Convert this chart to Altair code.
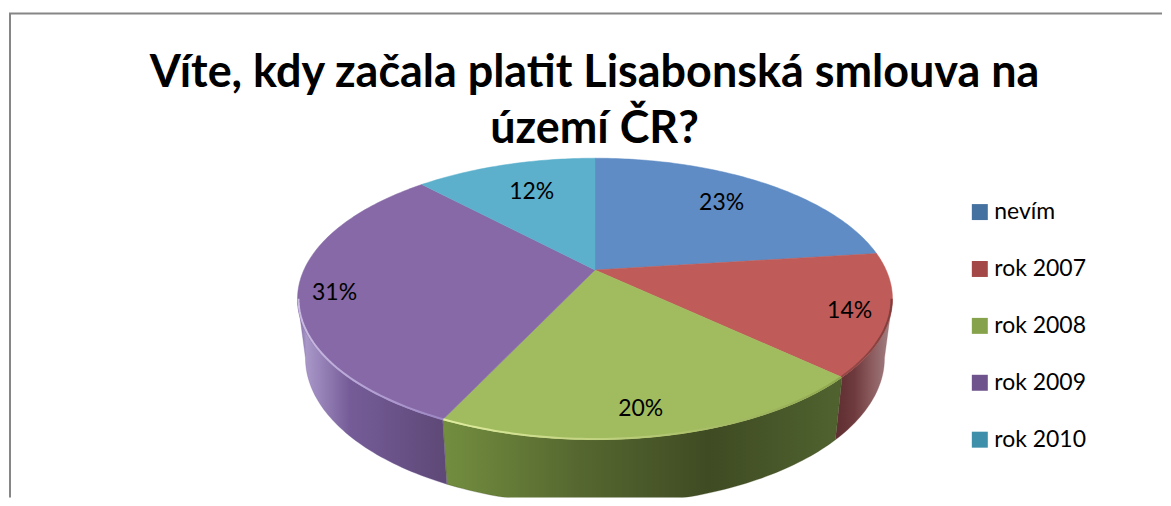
import math
import altair as alt
import pandas as pd

categories = ["nevím", "rok 2007", "rok 2008", "rok 2009", "rok 2010"]
shares = [23, 14, 20, 31, 12]
top_colors = ["#5F8CC5", "#BF5B58", "#A0BC5F", "#8669A6", "#5CB0CC"]
legend_colors = ["#44719F", "#A34846", "#86A34C", "#6E538C", "#3E8FAA"]
label_radius = [0.75, 0.87, 0.85, 0.88, 0.72]
label_nudge = [-1.0, 0.5, 2.0, -1.0, 1.5]
side_stops = {
    "rok 2007": ["#5E2E31", "#6E3A3D", "#8E5F62", "#A58689"],
    "rok 2008": ["#738E3F", "#566830", "#3F4B23", "#50632F"],
    "rok 2009": ["#7C68A0", "#A997C8", "#755C98", "#5D4876"],
}
rim_stops = {
    "rok 2007": ["#7E3E3D", "#9A4A48"],
    "rok 2008": ["#E0EDA0", "#8FA64E"],
    "rok 2009": ["#9D86C4", "#C9BBE2"],
}

W, H = 1155, 490
TOP = dict(cx=587.0, cy=262.0, a=291.6, b=135.0, p=0.2057)
BOTTOM = dict(cx=587.0, cy=320.0, a=283.8, b=140.8, p=0.2057)


def project(deg, r=1.0, g=TOP):
    t = math.radians(deg)
    X, Y = r * math.sin(t), -r * math.cos(t)
    d = 1 - g["p"] * Y
    return g["cx"] + g["a"] * X / d, g["cy"] + g["b"] * Y / d


edges = [0.0]
for s in shares:
    edges.append(edges[-1] + s * 3.6)

FRONT_A = math.degrees(math.acos(-TOP["p"]))
FRONT_B = 360 - FRONT_A


def arc(a, b):
    n = max(2, int(abs(b - a)) + 1)
    return [a + (b - a) * k / (n - 1) for k in range(n)]


def frame(pts):
    return pd.DataFrame({"x": [p[0] for p in pts], "y": [p[1] for p in pts], "i": range(len(pts))})


xs = alt.X("x:Q", axis=None, scale=alt.Scale(domain=[0, W], range=[0, W]))
ys = alt.Y("y:Q", axis=None, scale=alt.Scale(domain=[0, H], reverse=True))
order = alt.Order("i:Q")
layers = []

# walls
for k, cat in enumerate(categories):
    a, b = max(edges[k], FRONT_A), min(edges[k + 1], FRONT_B)
    if a >= b or cat not in side_stops:
        continue
    angles = arc(a, b)
    pts = [project(t) for t in angles] + [project(t, g=BOTTOM) for t in reversed(angles)]
    pts.append(pts[0])
    st = side_stops[cat]
    offsets = [0, 0.06, 0.35, 1] if cat == "rok 2009" else [j / (len(st) - 1) for j in range(len(st))]
    grad = alt.LinearGradient(
        gradient="linear", x1=0, y1=0, x2=1, y2=0,
        stops=[alt.GradientStop(color=c, offset=o) for c, o in zip(st, offsets)],
    )
    layers.append(alt.Chart(frame(pts)).mark_line(fill=grad, stroke=st[2], strokeWidth=0.3, clip=True)
                  .encode(x=xs, y=ys, order=order))

# top surface slices
for k, cat in enumerate(categories):
    pts = [project(0, 0)] + [project(t) for t in arc(edges[k], edges[k + 1])] + [project(0, 0)]
    layers.append(alt.Chart(frame(pts)).mark_line(fill=top_colors[k], stroke=top_colors[k], strokeWidth=0.5, clip=True)
                  .encode(x=xs, y=ys, order=order))

# rim highlight
for k, cat in enumerate(categories):
    if cat not in rim_stops:
        continue
    a, b = max(edges[k], FRONT_A), min(edges[k + 1], FRONT_B)
    pts = [project(t, 0.997) for t in arc(a, b)]
    st = rim_stops[cat]
    x1, x2 = (0, 1) if cat == "rok 2008" else (1, 0)
    grad = alt.LinearGradient(
        gradient="linear", x1=x1, y1=0, x2=x2, y2=0,
        stops=[alt.GradientStop(color=st[0], offset=0), alt.GradientStop(color=st[1], offset=1)],
    )
    layers.append(alt.Chart(frame(pts)).mark_line(stroke=grad, strokeWidth=2, clip=True)
                  .encode(x=xs, y=ys, order=order))

# percent labels
lab = []
for k, s in enumerate(shares):
    x, y = project((edges[k] + edges[k + 1]) / 2 + label_nudge[k], label_radius[k])
    lab.append({"x": x, "y": y, "t": f"{s}%"})
layers.append(alt.Chart(pd.DataFrame(lab)).mark_text(font="Lato", fontSize=23, color="#000000", dy=2)
              .encode(x=xs, y=ys, text="t:N"))

# frame of the picture
border = pd.DataFrame({"k": [0]})
layers.append(alt.Chart(border).mark_rule(color="#868686", strokeWidth=2)
              .encode(x=alt.value(0), x2=alt.value(W), y=alt.value(5)))
layers.append(alt.Chart(border).mark_rule(color="#868686", strokeWidth=2)
              .encode(x=alt.value(1), y=alt.value(5), y2=alt.value(H)))

# legend
legend = alt.Legend(
    title=None, orient="none", legendX=961, legendY=192.5, symbolType="square", symbolSize=256,
    symbolStrokeWidth=0, symbolOpacity=1, labelFont="Lato", labelFontSize=23, labelColor="#000000",
    labelOffset=3, rowPadding=33, labelLimit=200, padding=0,
)
layers.append(alt.Chart(pd.DataFrame({"c": categories})).mark_square(size=0).encode(
    x=alt.value(0), y=alt.value(0),
    color=alt.Color("c:N", legend=legend, scale=alt.Scale(domain=categories, range=legend_colors)),
))

chart = alt.layer(*layers).properties(
    width=W, height=H, padding=0,
    title=alt.TitleParams(
        text=["Víte, kdy začala platit Lisabonská smlouva na", "území ČR?"],
        font="Lato", fontSize=45, fontWeight="bold", color="#000000",
        anchor="middle", dx=9, offset=-144, lineHeight=56,
    ),
).configure_view(strokeWidth=0)

chart.save("out.html", embed_options={"renderer": "svg", "actions": False})
